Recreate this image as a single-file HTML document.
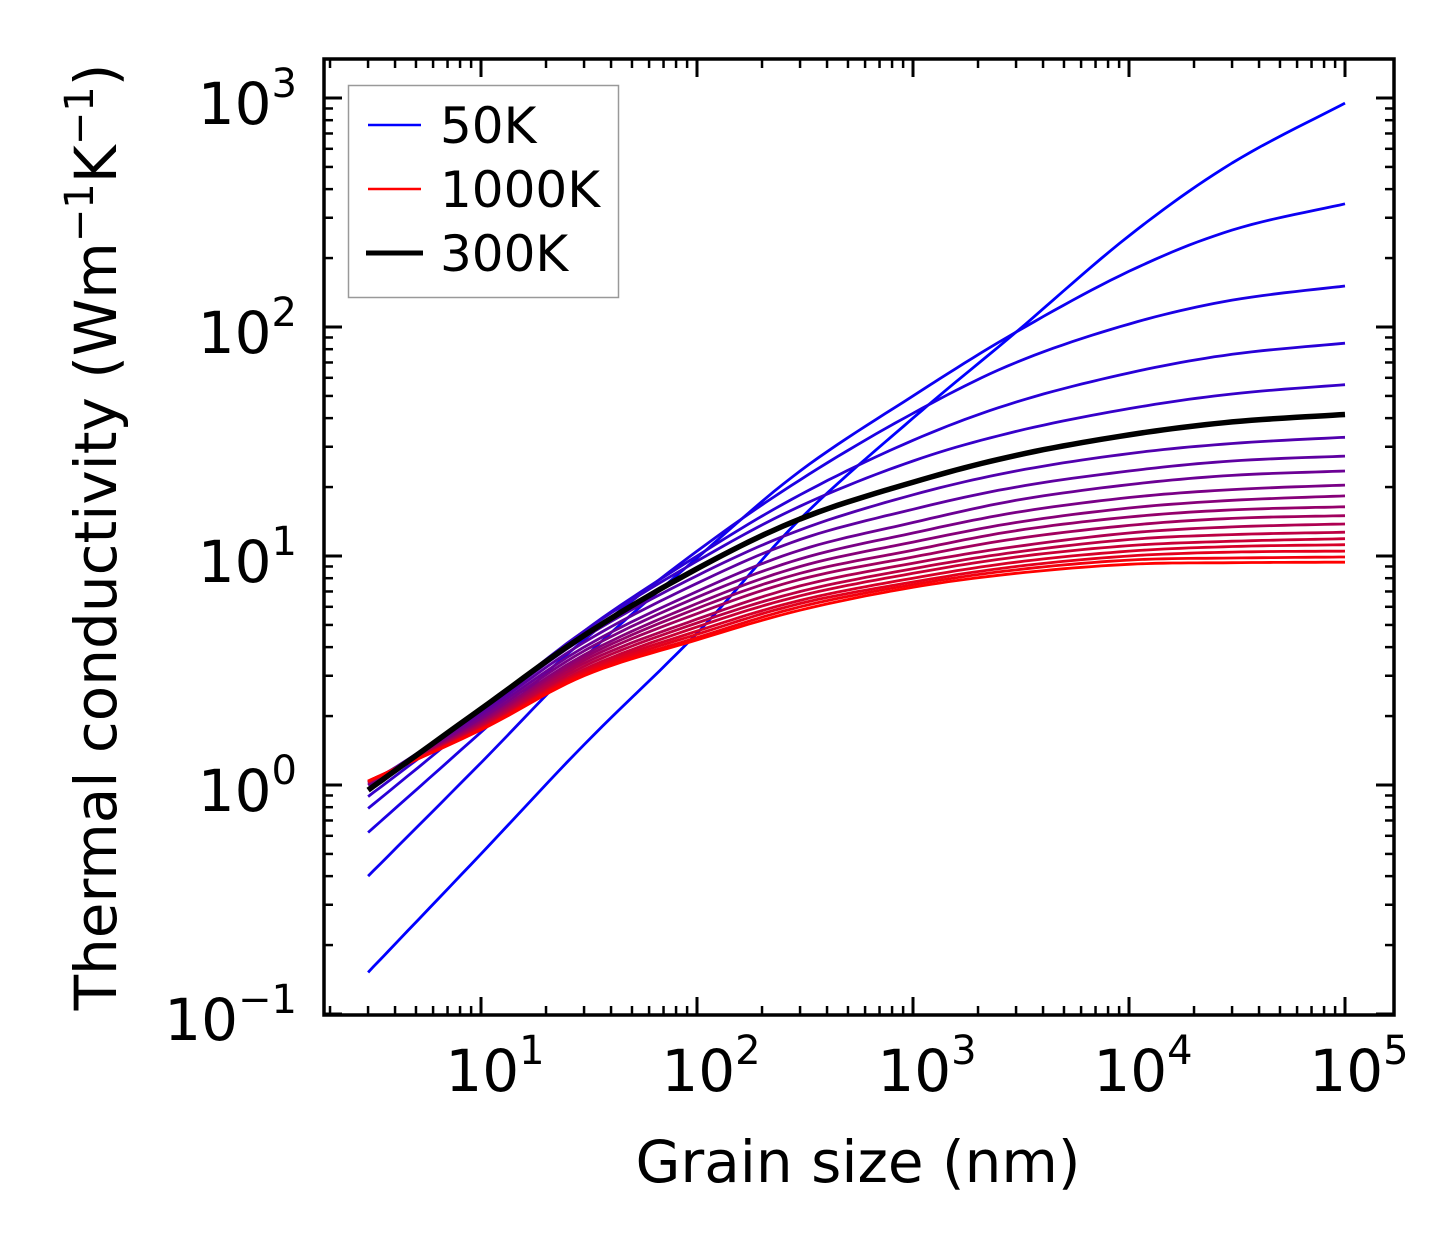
<!DOCTYPE html>
<html><head><meta charset="utf-8"><style>
html,body{margin:0;padding:0;background:#fff;}
svg text{font-family:"DejaVu Sans","Liberation Sans",sans-serif;fill:#000;}
</style></head><body>
<svg id="chart" width="1454" height="1254" viewBox="0 0 1454 1254" xmlns="http://www.w3.org/2000/svg">
<g id="curves"></g>
<g id="axes"></g>
<text x="858" y="1182" font-size="58" text-anchor="middle">Grain size (nm)</text>
<text transform="translate(116,537) rotate(-90)" font-size="58" text-anchor="middle">Thermal conductivity (Wm<tspan dy="-23" font-size="40">−1</tspan><tspan dy="23">K</tspan><tspan dy="-23" font-size="40">−1</tspan><tspan dy="23">)</tspan></text>
<g>
<rect x="348.5" y="85.5" width="270" height="212" fill="#fff" stroke="#999" stroke-width="1.5"/>
<line x1="368" y1="125" x2="421" y2="125" stroke="#0000ff" stroke-width="2.5"/>
<text x="440" y="143" font-size="50">50K</text>
<line x1="368" y1="189" x2="421" y2="189" stroke="#ff0000" stroke-width="2.5"/>
<text x="440" y="207" font-size="50">1000K</text>
<line x1="366" y1="253" x2="423" y2="253" stroke="#000" stroke-width="5"/>
<text x="440" y="271" font-size="50">300K</text>
</g>
</svg>
<script>
const grainSizes = [3, 10, 30, 100, 300, 1000, 3000, 10000, 30000, 100000];
const temperatures = [50,100,150,200,250,300,350,400,450,500,550,600,650,700,750,800,850,900,950,1000];
const k50 = [0.152, 0.5, 1.5, 4.6, 14.5, 40, 95, 250, 520, 950];
const k100 = [0.40, 1.25, 3.6, 9.8, 23.5, 50, 95, 175, 265, 345];
const k150 = [0.62, 1.7, 4.3, 10.5, 21.5, 42, 70, 103, 131, 151];
const k200 = [0.79, 2.0, 4.7, 10, 18.5, 32, 47, 63, 76, 85];
const k250 = [0.89, 2.1, 4.7, 9.5, 16.5, 26, 35, 44, 51, 56];
const k300 = [0.95, 2.15, 4.5, 8.8, 14.5, 21, 27.5, 33.8, 38.5, 41.5];
const k350 = [1.0, 2.1, 4.4, 8.2, 13, 18.5, 23.5, 28, 31, 33];
const k400 = [1.0, 2.05, 4.2, 7.6, 11.8, 16, 20, 23.5, 26, 27.3];
const k450 = [1.0, 2.0, 4.0, 7.0, 10.6, 14, 17.5, 20.5, 22.5, 23.5];
const k500 = [1.02, 1.95, 3.85, 6.6, 9.7, 12.6, 15.5, 18, 19.5, 20.4];
const k550 = [1.02, 1.9, 3.7, 6.2, 9.0, 11.5, 14, 16.2, 17.5, 18.3];
const k600 = [1.02, 1.88, 3.6, 5.9, 8.4, 10.6, 12.9, 14.8, 15.9, 16.4];
const k650 = [1.03, 1.85, 3.5, 5.6, 7.9, 9.9, 11.9, 13.6, 14.6, 15.0];
const k700 = [1.03, 1.83, 3.4, 5.3, 7.4, 9.3, 11.0, 12.6, 13.4, 13.8];
const k750 = [1.03, 1.81, 3.3, 5.1, 7.0, 8.8, 10.4, 11.8, 12.4, 12.7];
const k800 = [1.03, 1.79, 3.2, 4.9, 6.7, 8.4, 9.9, 11.1, 11.6, 11.9];
const k850 = [1.04, 1.77, 3.15, 4.7, 6.4, 8.0, 9.4, 10.5, 11.0, 11.2];
const k900 = [1.04, 1.76, 3.1, 4.55, 6.2, 7.7, 9.0, 10.0, 10.4, 10.5];
const k950 = [1.04, 1.75, 3.05, 4.4, 6.0, 7.5, 8.7, 9.6, 9.8, 9.9];
const k1000 = [1.04, 1.74, 3.0, 4.3, 5.8, 7.3, 8.4, 9.2, 9.35, 9.4];
const seriesList = [k50,k100,k150,k200,k250,k300,k350,k400,k450,k500,k550,k600,k650,k700,k750,k800,k850,k900,k950,k1000];
const xTickExps = [1,2,3,4,5];
const yTickExps = [-1,0,1,2,3];

const NS = "http://www.w3.org/2000/svg";
const L = 324, R = 1394, T = 59, B = 1015;
const X_DEC = 216, X_REF = 481;
const Y_DEC = 229, Y_REF = 785;
function xs(v){ return X_REF + (Math.log10(v) - 1) * X_DEC; }
function ys(v){ return Y_REF - Math.log10(v) * Y_DEC; }

function catmull(px, py, steps){
  const out = [];
  const n = px.length;
  for (let i = 0; i < n - 1; i++){
    const x0 = px[Math.max(i-1,0)], y0 = py[Math.max(i-1,0)];
    const x1 = px[i], y1 = py[i], x2 = px[i+1], y2 = py[i+1];
    const x3 = px[Math.min(i+2,n-1)], y3 = py[Math.min(i+2,n-1)];
    for (let s = 0; s < steps; s++){
      const t = s / steps, t2 = t*t, t3 = t2*t;
      const fx = 0.5*((2*x1)+(-x0+x2)*t+(2*x0-5*x1+4*x2-x3)*t2+(-x0+3*x1-3*x2+x3)*t3);
      const fy = 0.5*((2*y1)+(-y0+y2)*t+(2*y0-5*y1+4*y2-y3)*t2+(-y0+3*y1-3*y2+y3)*t3);
      out.push([fx, fy]);
    }
  }
  out.push([px[n-1], py[n-1]]);
  return out;
}

const curves = document.getElementById('curves');
const order = [];
for (let i = 0; i < seriesList.length; i++) if (i !== 5) order.push(i);
order.push(5);
order.forEach(i => {
  const vals = seriesList[i];
  const px = grainSizes.map(xs), py = vals.map(ys);
  const pts = catmull(px, py, 12);
  const p = document.createElementNS(NS, 'path');
  p.setAttribute('d', 'M' + pts.map(q => q[0].toFixed(1) + ',' + q[1].toFixed(1)).join('L'));
  const t = i / (seriesList.length - 1);
  const col = i === 5 ? '#000' : `rgb(${Math.round(255*t)},0,${Math.round(255*(1-t))})`;
  p.setAttribute('stroke', col);
  p.setAttribute('stroke-width', i === 5 ? 5.5 : 2.8);
  p.setAttribute('fill', 'none');
  p.setAttribute('stroke-linejoin', 'round');
  
  
  curves.appendChild(p);
});

const axes = document.getElementById('axes');
function line(x1,y1,x2,y2,w,name){
  const l = document.createElementNS(NS,'line');
  l.setAttribute('x1',x1); l.setAttribute('y1',y1); l.setAttribute('x2',x2); l.setAttribute('y2',y2);
  l.setAttribute('stroke','#000'); l.setAttribute('stroke-width',w);
  
  
  axes.appendChild(l);
}
const fr = document.createElementNS(NS,'rect');
fr.setAttribute('x',L); fr.setAttribute('y',T); fr.setAttribute('width',R-L); fr.setAttribute('height',B-T);
fr.setAttribute('fill','none'); fr.setAttribute('stroke','#000'); fr.setAttribute('stroke-width',3.5);


axes.appendChild(fr);

for (let e = 0; e <= 5; e++){
  for (let m = 1; m <= 9; m++){
    const v = m * Math.pow(10, e);
    const x = xs(v);
    if (x < L + 1 || x > R - 1) continue;
    const len = m === 1 ? 18 : 9, w = m === 1 ? 3 : 2.5;
    line(x, B, x, B - len, w, 'x-tick');
    line(x, T, x, T + len, w, 'x-tick-top');
  }
}
for (let e = -1; e <= 3; e++){
  for (let m = 1; m <= 9; m++){
    const v = m * Math.pow(10, e);
    const y = ys(v);
    if (y < T + 1 || y > B + 1) continue;
    const len = m === 1 ? 18 : 9, w = m === 1 ? 3 : 2.5;
    line(L, y, L + len, y, w, 'y-tick');
    line(R, y, R - len, y, w, 'y-tick-right');
  }
}
function powLabel(x, y, exp, anchor, name){
  const t = document.createElementNS(NS,'text');
  t.setAttribute('x', x); t.setAttribute('y', y);
  t.setAttribute('font-size', 58);
  t.setAttribute('text-anchor', anchor);
  
  
  const expStr = exp < 0 ? '−' + (-exp) : String(exp);
  t.innerHTML = '10<tspan dy="-27" font-size="40">' + expStr + '</tspan>';
  axes.appendChild(t);
}
xTickExps.forEach(e => powLabel(xs(Math.pow(10,e)) + 14, 1091, e, 'middle', 'x-tick-label'));
yTickExps.forEach(e => powLabel(297, ys(Math.pow(10,e)) + 26, e, 'end', 'y-tick-label'));
</script>
</body></html>
